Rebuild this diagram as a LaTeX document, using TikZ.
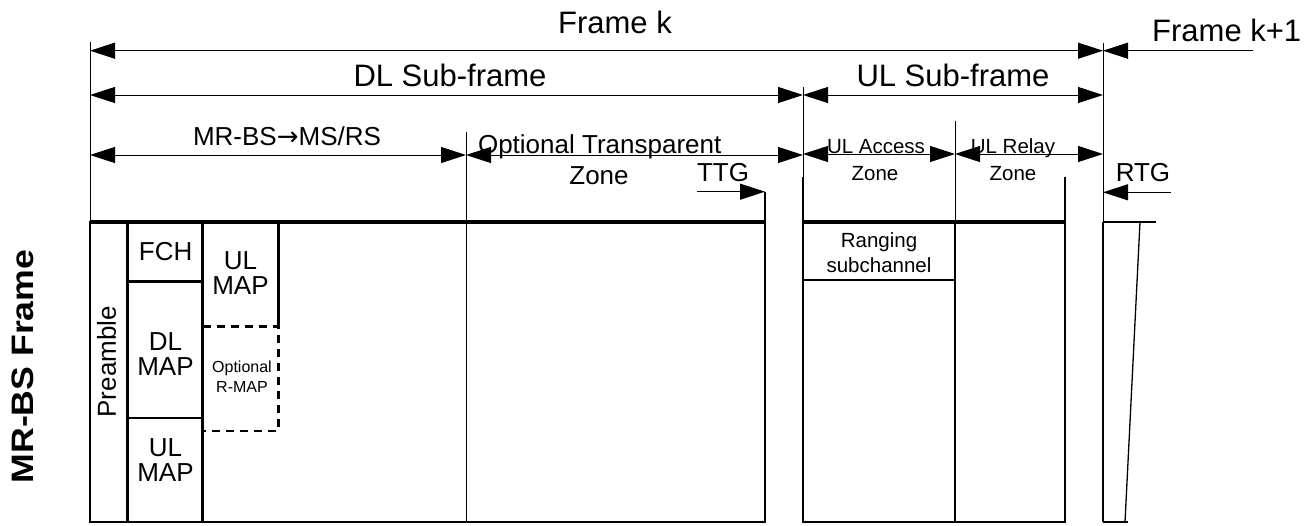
\documentclass[tikz,border=0pt]{standalone}
\usepackage{fontspec}
\setmainfont{Liberation Sans}
\newfontfamily\arrowfont{DejaVu Sans}
\usetikzlibrary{arrows.meta}
\begin{document}
\begin{tikzpicture}[x=1pt,y=-1pt,
  thinln/.style={line width=1pt},
  midln/.style={line width=1.8pt},
  boxln/.style={line width=2.8pt},
  dshln/.style={line width=2.5pt,dash pattern=on 8pt off 6pt},
  dim/.style={line width=1pt,{Triangle[length=25pt,width=16pt]}-{Triangle[length=25pt,width=16pt]}},
  dimone/.style={line width=1pt,-{Triangle[length=25pt,width=16pt]}},
  lbl/.style={inner sep=0pt,anchor=base},
  txt/.style={inner sep=0pt,align=center},
  bigf/.style={font=\fontsize{31}{36}\selectfont},
  midf/.style={font=\fontsize{26}{25}\selectfont},
  smlf/.style={font=\fontsize{20.5}{25}\selectfont},
  tnyf/.style={font=\fontsize{16}{20}\selectfont}
]
\useasboundingbox (0,0) rectangle (1309,525);

% ---- named coordinates
\coordinate (FkL) at (90,50.7);
\coordinate (FkR) at (1103,50.7);
\coordinate (FkN) at (1253,50.7);
\coordinate (DLL) at (90,95);
\coordinate (DLR) at (803,95);
\coordinate (ULR) at (1103,95);
\coordinate (MRL) at (90,155);
\coordinate (MRR) at (466,155);
\coordinate (OTR) at (803,155);
\coordinate (UAL) at (803,154);
\coordinate (UAR) at (955,154);
\coordinate (URR) at (1103,154);
\coordinate (TTa) at (697,191.7);
\coordinate (TTb) at (765,191.7);
\coordinate (RTa) at (1171,192.3);
\coordinate (RTb) at (1103,192.3);

% ---- vertical guide lines
\draw[thinln] (90,42) -- (90,222);
\draw[thinln] (1103,42.7) -- (1103,222);
\draw[thinln] (803,87) -- (803,177);
\draw[midln] (803,177) -- (803,222);
\draw[thinln] (466,131.7) -- (466,522);
\draw[thinln] (955,120.7) -- (955,222);
\draw[midln] (765,191.7) -- (765,222);
\draw[midln] (1065,176.7) -- (1065,222);

% ---- dimension arrows
\draw[dim] (FkL) -- (FkR);
\draw[dimone] (FkN) -- (FkR);
\draw[dim] (DLL) -- (DLR);
\draw[dim] (DLR) -- (ULR);
\draw[dim] (MRL) -- (MRR);
\draw[dim] (MRR) -- (OTR);
\draw[dim] (UAL) -- (UAR);
\draw[dim] (UAR) -- (URR);
\draw[dimone] (TTa) -- (TTb);
\draw[dimone] (RTa) -- (RTb);

% ---- DL frame
\draw[boxln] (90,222) rectangle (765,522);
\draw[line width=3.6pt] (90,222) -- (765,222);
\draw[boxln] (127.7,222) -- (127.7,522);
\draw[boxln] (202.7,222) -- (202.7,522);
\draw[boxln] (127.7,281.7) -- (202.7,281.7);
\draw[boxln] (127.7,418) -- (202.7,418);
\draw[boxln] (278.3,222) -- (278.3,326.7);
\draw[dshln] (202.7,326.7) -- (278.3,326.7) -- (278.3,431) -- (202.7,431);

% ---- UL frame
\draw[boxln] (803,222) rectangle (1065,522);
\draw[line width=3.6pt] (803,222) -- (1065,222);
\draw[boxln] (803,222) rectangle (955,280);
\draw[midln] (955,280) -- (955,522);

% ---- next frame start
\draw[midln] (1103,222) -- (1103,522);
\draw[line width=1.3pt] (1103,222) -- (1156,222);
\draw[line width=1.3pt] (1140,222) -- (1125,522);
\draw[line width=1.3pt] (1103,522) -- (1128,522);

% ---- labels
\node[lbl,bigf] (fk) at (615,33) {Frame k};
\node[lbl,bigf] (fkn) at (1226.7,41.7) {Frame k+1};
\node[lbl,bigf] (dlsub) at (450,86) {DL Sub-frame};
\node[lbl,bigf] (ulsub) at (953,86) {UL Sub-frame};
\node[lbl,midf] (mrbsms) at (287,145) {MR-BS{\arrowfont →}MS/RS};
\node[lbl,midf] (optt) at (599.7,153.3) {Optional Transparent};
\node[lbl,midf] (opttz) at (599,184) {Zone};
\node[lbl,midf] (ttg) at (723,181.7) {TTG};
\node[lbl,midf] (rtg) at (1143,181.7) {RTG};
\node[lbl,smlf] (ulacc) at (876,153) {UL Access};
\node[lbl,smlf] (ulaccz) at (875,180) {Zone};
\node[lbl,smlf] (ulrel) at (1013,153) {UL Relay};
\node[lbl,smlf] (ulrelz) at (1013,180) {Zone};

\node[txt,midf] (fch) at (165.7,251.7) {FCH};
\node[txt,midf] (ulmapa) at (240.5,273.3) {UL\\MAP};
\node[txt,midf] (dlmap) at (165.5,354.2) {DL\\MAP};
\node[txt,midf] (ulmapb) at (165.5,460.5) {UL\\MAP};
\node[txt,tnyf] (rmap) at (242,377) {Optional\\R-MAP};
\node[txt,midf,rotate=90] (pre) at (106.7,361.7) {Preamble};
\node[txt,smlf] (rng) at (879,252.2) {Ranging\\subchannel};
\node[txt,font=\bfseries\fontsize{31}{36}\selectfont,rotate=90,xscale=1.15] (mrbs) at (22.5,366.5) {MR-BS Frame};
\end{tikzpicture}
\end{document}
